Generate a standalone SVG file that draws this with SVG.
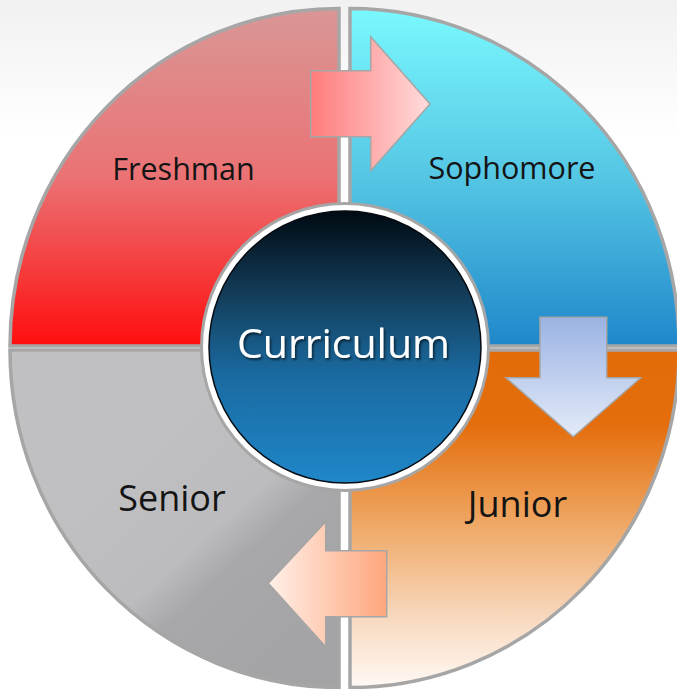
<svg xmlns="http://www.w3.org/2000/svg" width="677" height="689" viewBox="0 0 677 689">
<defs>
<linearGradient id="bg" x1="0" y1="0" x2="0" y2="1"><stop offset="0" stop-color="#f1f1f1"/><stop offset="0.2" stop-color="#ffffff"/></linearGradient>
<linearGradient id="gF" gradientUnits="userSpaceOnUse" x1="0" y1="8" x2="0" y2="346"><stop offset="0" stop-color="#d99796"/><stop offset="0.5" stop-color="#eb7274"/><stop offset="1" stop-color="#ff0e0e"/></linearGradient>
<linearGradient id="gS" gradientUnits="userSpaceOnUse" x1="0" y1="8" x2="0" y2="346"><stop offset="0" stop-color="#7af9fe"/><stop offset="0.5" stop-color="#55c6e4"/><stop offset="1" stop-color="#1f87ca"/></linearGradient>
<linearGradient id="gJ" gradientUnits="userSpaceOnUse" x1="0" y1="350" x2="0" y2="688"><stop offset="0" stop-color="#e36c09"/><stop offset="0.22" stop-color="#e46d0c"/><stop offset="0.5" stop-color="#eea560"/><stop offset="0.8" stop-color="#f8dac1"/><stop offset="1" stop-color="#fff9f4"/></linearGradient>
<linearGradient id="gN" gradientUnits="userSpaceOnUse" x1="120" y1="450" x2="300" y2="650"><stop offset="0" stop-color="#c0c0c2"/><stop offset="0.45" stop-color="#bcbcbe"/><stop offset="0.6" stop-color="#a8a8aa"/><stop offset="1" stop-color="#a4a4a6"/></linearGradient>
<linearGradient id="gA1" x1="0" y1="0" x2="1" y2="0"><stop offset="0" stop-color="#ff7b7b"/><stop offset="1" stop-color="#ffdcdc"/></linearGradient>
<linearGradient id="gA2" x1="0" y1="0" x2="0" y2="1"><stop offset="0" stop-color="#9bb3e3"/><stop offset="1" stop-color="#e4ebf8"/></linearGradient>
<linearGradient id="gA3" x1="0" y1="0" x2="1" y2="0"><stop offset="0" stop-color="#fff0e9"/><stop offset="1" stop-color="#ffa67c"/></linearGradient>
<linearGradient id="gC" x1="0" y1="0" x2="0" y2="1"><stop offset="0" stop-color="#000a12"/><stop offset="0.3" stop-color="#133c58"/><stop offset="0.6" stop-color="#1a6aa0"/><stop offset="1" stop-color="#1f87c9"/></linearGradient>
<filter id="ts" x="-10%" y="-30%" width="120%" height="160%"><feDropShadow dx="1.5" dy="2" stdDeviation="1.2" flood-color="#000" flood-opacity="0.6"/></filter>
</defs>
<style>
.q{stroke:#a6a6a6;stroke-width:3.5;stroke-linejoin:miter}
.ar{stroke:#a6a6a6;stroke-width:1.5}
.lb{font-family:"Open Sans","Noto Sans",sans-serif;fill:#141414;text-anchor:middle}
</style>
<rect width="677" height="689" fill="url(#bg)"/>
<g id="freshman"><path class="q" fill="url(#gF)" d="M339,346 H10 A329,337.5 0 0 1 339,8.5 Z"/><text class="lb" x="183.5" y="180" font-size="30.5">Freshman</text></g>
<g id="sophomore"><path class="q" fill="url(#gS)" d="M350,346 V8.5 A329,337.5 0 0 1 679,346 Z"/><text class="lb" x="512" y="179" font-size="30.5">Sophomore</text></g>
<g id="junior"><path class="q" fill="url(#gJ)" d="M350,350 H679 A329,337.5 0 0 1 350,687.5 Z"/><text class="lb" x="517.5" y="517" font-size="36">Junior</text></g>
<g id="senior"><path class="q" fill="url(#gN)" d="M339,350 V687.5 A329,337.5 0 0 1 10,350 Z"/><text class="lb" x="172" y="511" font-size="36">Senior</text></g>
<g id="connectors">
<path class="ar" fill="url(#gA1)" d="M310.7,70.7 H370.7 V36.7 L430,104 L370.7,170.7 V136.7 H310.7 Z"/>
<path class="ar" fill="url(#gA2)" d="M540,317.3 H606.7 V377.7 H640.7 L573.3,436.7 L506,377.7 H540 Z"/>
<path class="ar" fill="url(#gA3)" d="M386.7,550.7 V616.7 H325.7 V646.7 L268.3,583.3 L325.7,521.7 V550.7 Z"/>
</g>
<g id="curriculum">
<circle cx="345" cy="347" r="143.5" fill="#ffffff" stroke="#a6a6a6" stroke-width="3"/>
<circle cx="345" cy="347" r="136" fill="url(#gC)" stroke="#050a10" stroke-width="1.5"/>
<text x="343.5" y="358" font-family="'Open Sans','Noto Sans',sans-serif" font-size="41" fill="#ffffff" text-anchor="middle" filter="url(#ts)">Curriculum</text>
</g>
</svg>
